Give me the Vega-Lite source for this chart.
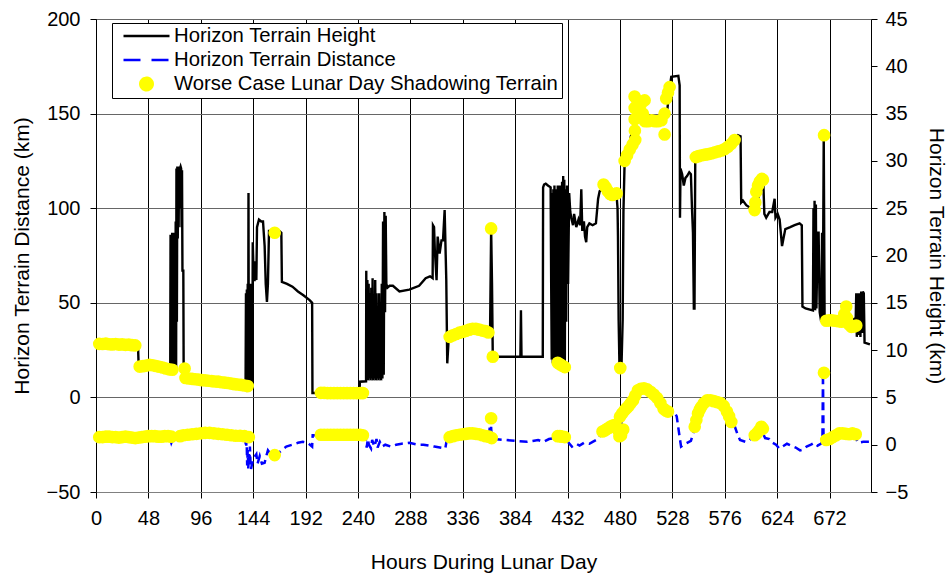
{
"$schema": "https://vega.github.io/schema/vega-lite/v6.json",
"width": 775, "height": 473,
"autosize": {"type": "none"},
"padding": {"left": 96, "top": 19, "right": 77, "bottom": 86},
"background": "white",
"config": {
  "font": "Liberation Sans",
  "view": {"stroke": null},
  "axis": {"labelFont": "Liberation Sans", "titleFont": "Liberation Sans", "labelColor": "#000", "titleColor": "#000", "tickColor": "#000", "titleFontWeight": "normal", "labelFontSize": 20, "titleFontSize": 21}
},
"datasets": {
"height": [
{"h":0,"v":28.7},{"h":10,"v":28.5},{"h":20,"v":28.3},{"h":30,"v":28},{"h":37,"v":27.5},{"h":38.5,"v":27},{"h":39,"v":18},{"h":40,"v":17},{"h":50,"v":16.5},{"h":60,"v":15.5},{"h":67,"v":14.5},
{"h":68,"v":15},{"h":68.3,"v":86},{"h":68.6,"v":16},{"h":69,"v":86},{"h":69.4,"v":15},{"h":69.8,"v":87},{"h":70.2,"v":16},{"h":70.6,"v":86},{"h":71,"v":15},{"h":71.4,"v":87},{"h":71.8,"v":17},{"h":72.2,"v":86},{"h":72.6,"v":16},{"h":73,"v":93},{"h":73.4,"v":16},{"h":73.7,"v":121},{"h":74.1,"v":40},{"h":74.5,"v":122},{"h":74.9,"v":84},{"h":75.3,"v":121},{"h":75.7,"v":90},{"h":76.1,"v":122},{"h":76.5,"v":100},{"h":77,"v":121},{"h":77.5,"v":122},{"h":78,"v":121},{"h":78.4,"v":90},{"h":78.8,"v":120},{"h":79.2,"v":67},{"h":80,"v":67},{"h":80.3,"v":14},{"h":81,"v":13},{"h":85,"v":11},{"h":100,"v":9.5},{"h":120,"v":7.5},{"h":136,"v":6},
{"h":137,"v":5},{"h":137.4,"v":55},{"h":137.8,"v":5},{"h":138.2,"v":57},{"h":138.6,"v":6},{"h":139,"v":60},{"h":139.4,"v":5},{"h":139.7,"v":108},{"h":140,"v":6},{"h":140.4,"v":58},{"h":140.8,"v":5},{"h":141.2,"v":60},{"h":141.6,"v":6},{"h":142,"v":57},{"h":142.4,"v":5},{"h":142.8,"v":60},{"h":143.2,"v":7},{"h":143.6,"v":82},{"h":144.5,"v":62},{"h":145.3,"v":62},{"h":146,"v":72},{"h":146.9,"v":62},{"h":147.5,"v":90},{"h":149.3,"v":94},{"h":151.4,"v":93},{"h":153,"v":93},{"h":154.5,"v":80},{"h":155.5,"v":60},{"h":156.6,"v":50.5},{"h":157.5,"v":60},{"h":158.5,"v":88},{"h":163,"v":88},{"h":168,"v":88},{"h":169.8,"v":87},{"h":170.3,"v":61},{"h":175,"v":60},{"h":180,"v":58.5},{"h":185,"v":56},{"h":190,"v":54},{"h":195.7,"v":51.4},{"h":198,"v":50},{"h":198.3,"v":2.3},{"h":241.5,"v":2.3},
{"h":241.7,"v":8.3},{"h":247.4,"v":8.5},{"h":247.6,"v":67},{"h":248,"v":10},{"h":248.6,"v":62},{"h":249.2,"v":9},{"h":249.8,"v":60},{"h":250.4,"v":10},{"h":251,"v":55},{"h":251.6,"v":9},{"h":252.2,"v":58},{"h":252.8,"v":10},{"h":253.4,"v":63},{"h":254,"v":9},{"h":254.6,"v":53},{"h":255.2,"v":10},{"h":255.8,"v":62},{"h":256.4,"v":9},{"h":257,"v":55},{"h":257.6,"v":10},{"h":258.2,"v":45},{"h":258.8,"v":9},{"h":259.4,"v":55},{"h":260,"v":10},{"h":260.6,"v":50},{"h":261.2,"v":9},{"h":261.8,"v":60},{"h":262.4,"v":10},{"h":263,"v":93},{"h":263.6,"v":12},{"h":264.2,"v":98},{"h":264.8,"v":45},{"h":265.4,"v":96},{"h":266,"v":60},{"h":267,"v":58},{"h":269,"v":59},{"h":272,"v":59},{"h":278,"v":56},{"h":287,"v":57},{"h":296,"v":59},{"h":302,"v":63},{"h":306,"v":64},{"h":308.4,"v":63},{"h":308.7,"v":91},{"h":309.7,"v":90},{"h":310.4,"v":78},{"h":312,"v":62},{"h":313,"v":85},{"h":314.8,"v":76},{"h":316.5,"v":83},{"h":317.9,"v":83},{"h":319.4,"v":99},{"h":320.9,"v":62},{"h":321.8,"v":18},{"h":323,"v":30},{"h":324,"v":32},{"h":330,"v":33},{"h":340,"v":34.5},{"h":350,"v":35.5},{"h":358,"v":35},{"h":361,"v":34},{"h":362,"v":89},{"h":362.8,"v":60},{"h":363.5,"v":21.5},{"h":375,"v":21.5},{"h":388.8,"v":21.5},{"h":389.3,"v":46},{"h":389.8,"v":22},{"h":390.5,"v":21.5},{"h":400,"v":21.5},{"h":409.3,"v":21.5},
{"h":409.6,"v":111},{"h":410.5,"v":112.5},{"h":412,"v":113},{"h":414,"v":112},{"h":416.5,"v":111},{"h":417,"v":61},{"h":417.5,"v":20},{"h":418,"v":108},{"h":418.5,"v":18},{"h":419,"v":110},{"h":419.5,"v":25},{"h":420,"v":112},{"h":420.5,"v":18},{"h":421,"v":70},{"h":421.5,"v":18},{"h":422,"v":110},{"h":422.5,"v":18},{"h":423,"v":112},{"h":423.5,"v":20},{"h":424,"v":70},{"h":424.5,"v":17},{"h":425,"v":112},{"h":425.5,"v":19},{"h":426,"v":111},{"h":426.5,"v":18},{"h":427,"v":114},{"h":427.5,"v":30},{"h":428,"v":117},{"h":428.5,"v":20},{"h":429,"v":115},{"h":429.5,"v":18},{"h":430,"v":110},{"h":430.8,"v":40},{"h":431.5,"v":112},{"h":432.5,"v":60},{"h":433.5,"v":108},{"h":434.5,"v":98},{"h":435.4,"v":95},{"h":437,"v":91},{"h":438,"v":97},{"h":440,"v":90},{"h":442,"v":94},{"h":443.5,"v":91},{"h":444.6,"v":110},{"h":445.5,"v":88},{"h":447,"v":93},{"h":448,"v":85},{"h":449.1,"v":82},{"h":450,"v":90},{"h":452,"v":92},{"h":455,"v":91},{"h":458,"v":92},{"h":460,"v":105},{"h":461.4,"v":109},{"h":464,"v":110},{"h":467,"v":111},{"h":470,"v":110},{"h":475,"v":108},
{"h":477,"v":106},{"h":477.8,"v":100},{"h":478.2,"v":85},{"h":478.8,"v":41},{"h":479.5,"v":18},{"h":480.5,"v":16},{"h":481.5,"v":18},{"h":482.5,"v":41},{"h":483.2,"v":98},{"h":484.3,"v":125},{"h":487,"v":130},{"h":490,"v":138},{"h":492,"v":142},{"h":494,"v":150},{"h":496,"v":148},{"h":500,"v":148},{"h":505,"v":146},{"h":510,"v":146},{"h":515,"v":146},{"h":520,"v":145},{"h":523,"v":150},{"h":525.5,"v":163},{"h":527,"v":169.5},{"h":533.5,"v":170},{"h":534.7,"v":165},{"h":535,"v":95},{"h":535.5,"v":121},{"h":537,"v":118},{"h":538.5,"v":112},{"h":540,"v":116},{"h":541.5,"v":117},{"h":543.5,"v":119},{"h":545,"v":118},{"h":546,"v":100},{"h":546.9,"v":87},{"h":547.7,"v":47},{"h":548.3,"v":47},{"h":549,"v":127},{"h":555,"v":128},{"h":565,"v":129},{"h":575,"v":131},{"h":583,"v":135},{"h":587,"v":137},{"h":588.1,"v":138.5},{"h":590.5,"v":138},{"h":591.1,"v":103},{"h":592.7,"v":104},{"h":595.7,"v":101.6},{"h":600,"v":100},{"h":603.4,"v":99},{"h":606,"v":104},{"h":609,"v":110},{"h":611.5,"v":111},{"h":612.3,"v":97},{"h":614,"v":95},{"h":617,"v":98},{"h":619.5,"v":98},{"h":621.7,"v":105},{"h":622.5,"v":95},{"h":624.5,"v":97},{"h":626.3,"v":94},{"h":628.5,"v":80},{"h":629.8,"v":84},{"h":631.5,"v":89},{"h":636,"v":90},{"h":640,"v":91},{"h":644.6,"v":92},{"h":646.6,"v":91},{"h":647.2,"v":48},{"h":650,"v":47},{"h":656.8,"v":46},{"h":657.3,"v":100},{"h":657.8,"v":46},{"h":658.3,"v":104},{"h":658.8,"v":46},{"h":659.5,"v":102},{"h":660,"v":47},{"h":661.2,"v":87},{"h":662,"v":87},{"h":663,"v":45},{"h":664.4,"v":40},{"h":665.2,"v":87},{"h":665.8,"v":40},{"h":666.7,"v":138.6},{"h":667.5,"v":40},{"h":670,"v":40},{"h":675,"v":40},{"h":680,"v":41},{"h":685,"v":42},{"h":690,"v":40},{"h":696,"v":42},{"h":696.5,"v":55},{"h":697,"v":32},{"h":698,"v":55},{"h":698.7,"v":33},{"h":699.5,"v":55},{"h":700.3,"v":32},{"h":701,"v":56},{"h":701.8,"v":34},{"h":702.5,"v":56},{"h":703.4,"v":55},{"h":704.1,"v":29},{"h":709,"v":28}
],
"distance": [
{"h":0,"v":0.3},{"h":3,"v":0.5},{"h":10,"v":0.6},{"h":20,"v":0.6},{"h":30,"v":0.5},{"h":40,"v":0.7},{"h":50,"v":0.8},{"h":60,"v":0.8},{"h":68,"v":0.6},{"h":69,"v":0.2},{"h":70,"v":0.5},{"h":75,"v":0.9},{"h":80,"v":1.0},{"h":90,"v":1.1},{"h":100,"v":1.2},{"h":110,"v":1.1},{"h":120,"v":1.0},{"h":130,"v":0.9},{"h":136,"v":0.9},{"h":137,"v":0.3},{"h":137.5,"v":-0.3},{"h":138,"v":0.5},{"h":138.5,"v":-2.2},{"h":139,"v":-0.5},{"h":139.5,"v":-2.5},{"h":140,"v":-1.0},{"h":140.5,"v":-2.0},{"h":141,"v":-0.2},{"h":141.5,"v":-1.8},{"h":142,"v":-2.6},{"h":143,"v":-2.0},{"h":144,"v":-1.5},{"h":146.9,"v":-1.0},{"h":148,"v":-2.0},{"h":150,"v":-1.2},{"h":152,"v":-2.0},{"h":154.5,"v":-1.9},{"h":156,"v":-1.2},{"h":157.5,"v":-0.6},{"h":160,"v":-1.0},{"h":163.7,"v":-1.1},{"h":168,"v":-0.8},{"h":174.3,"v":-0.2},{"h":180,"v":0},{"h":185,"v":0.2},{"h":189.6,"v":0.3},{"h":194,"v":0.2},{"h":198,"v":-0.2},{"h":198.5,"v":1.0},{"h":205,"v":1.0},{"h":215,"v":1.1},{"h":225,"v":1.1},{"h":235,"v":1.1},{"h":245,"v":1.0},
{"h":247,"v":0.8},{"h":248,"v":-0.3},{"h":249,"v":0.6},{"h":250,"v":0.0},{"h":252,"v":-0.4},{"h":253,"v":0.5},{"h":255,"v":-0.2},{"h":257,"v":0.6},{"h":258,"v":-0.3},{"h":260,"v":0.3},{"h":262,"v":-0.2},{"h":265,"v":0.0},{"h":270,"v":-0.2},{"h":275,"v":0},{"h":280,"v":0.1},{"h":287,"v":0.2},{"h":295,"v":0},{"h":300,"v":0.0},{"h":305,"v":-0.1},{"h":310,"v":-0.2},{"h":315,"v":-0.3},{"h":320,"v":-0.4},{"h":321.5,"v":0.6},{"h":325,"v":0.8},{"h":335,"v":1.0},{"h":345,"v":1.1},{"h":355,"v":1.0},{"h":360,"v":0.9},{"h":361.5,"v":2.8},{"h":362.5,"v":0.8},
{"h":365,"v":0.6},{"h":375,"v":0.5},{"h":385,"v":0.4},{"h":395,"v":0.3},{"h":400,"v":0.4},{"h":405,"v":0.5},{"h":410,"v":0.3},{"h":415,"v":0.6},{"h":420,"v":0.7},{"h":425,"v":0.85},{"h":430,"v":0.8},{"h":433,"v":0.2},{"h":436,"v":-0.2},{"h":440,"v":0.1},{"h":443,"v":-0.1},{"h":447,"v":0.2},{"h":452,"v":0.1},{"h":455,"v":0.3},{"h":460,"v":0.6},{"h":463,"v":1.2},{"h":466,"v":1.6},{"h":470,"v":1.8},{"h":475,"v":2.1},{"h":478,"v":2.0},{"h":480,"v":1.0},{"h":482,"v":2.8},{"h":485,"v":3.8},{"h":490,"v":4.3},{"h":495,"v":5.5},{"h":500,"v":5.8},{"h":505,"v":5.6},{"h":510,"v":5.3},{"h":515,"v":4.8},{"h":520,"v":4.0},{"h":525,"v":3.5},{"h":530,"v":3.4},{"h":532,"v":3.0},{"h":534.7,"v":0.8},{"h":536,"v":-0.2},{"h":540,"v":0.1},{"h":545,"v":0.4},{"h":548,"v":1.5},{"h":550,"v":2.5},{"h":553,"v":3.5},{"h":557,"v":4.3},{"h":562,"v":4.7},{"h":568,"v":4.8},{"h":573,"v":4.5},{"h":578,"v":4.0},{"h":582,"v":3.0},{"h":585,"v":2.0},{"h":588,"v":1.0},{"h":590,"v":0.5},
{"h":595,"v":0.3},{"h":598,"v":0.4},{"h":603,"v":1.0},{"h":606,"v":1.5},{"h":609,"v":1.9},{"h":611,"v":1.2},{"h":613,"v":0.7},{"h":617,"v":0.6},{"h":620,"v":0.2},{"h":623,"v":0.0},{"h":626,"v":-0.4},{"h":629,"v":-0.2},{"h":633,"v":0.1},{"h":637,"v":-0.1},{"h":641,"v":-0.3},{"h":645,"v":-0.6},{"h":648,"v":-0.5},{"h":651,"v":-0.2},{"h":655,"v":0.0},{"h":658,"v":0.2},{"h":661,"v":-0.1},{"h":664,"v":0.1},{"h":665.5,"v":0.3},{"h":666,"v":7.5},{"h":666.5,"v":0.8},{"h":668,"v":0.9},{"h":675,"v":1.1},{"h":680,"v":1.2},{"h":685,"v":1.2},{"h":690,"v":1.1},{"h":695,"v":1.0},{"h":698,"v":0.2},{"h":703,"v":0.3},{"h":709,"v":0.3}
],
"shadowUpper": [
{"h":3,"v":28.3},{"h":6,"v":28.2},{"h":9,"v":28.4},{"h":12,"v":28.1},{"h":15,"v":28},{"h":18,"v":28.2},{"h":21,"v":27.9},{"h":24,"v":28},{"h":27,"v":27.8},{"h":30,"v":27.9},{"h":33,"v":27.6},{"h":36,"v":27.5},
{"h":40,"v":16.3},{"h":43,"v":16.5},{"h":46,"v":16.8},{"h":49,"v":17.2},{"h":52,"v":17.0},{"h":55,"v":16.6},{"h":58,"v":16.2},{"h":61,"v":15.8},{"h":64,"v":15.3},{"h":67,"v":14.8},{"h":70,"v":14.6},
{"h":81.2,"v":15.3},
{"h":82,"v":10.3},{"h":85,"v":10},{"h":88,"v":9.8},{"h":91,"v":9.6},{"h":94,"v":9.4},{"h":97,"v":9.1},{"h":100,"v":9.0},{"h":103,"v":8.8},{"h":106,"v":8.6},{"h":109,"v":8.4},{"h":112,"v":8.3},{"h":115,"v":8.0},{"h":118,"v":7.8},{"h":121,"v":7.6},{"h":124,"v":7.3},{"h":127,"v":7.0},{"h":130,"v":6.8},{"h":133,"v":6.6},{"h":136,"v":6.3},{"h":139,"v":6.0},
{"h":163.7,"v":87},
{"h":206,"v":2.4},{"h":209,"v":2.4},{"h":212,"v":2.3},{"h":215,"v":2.3},{"h":218,"v":2.3},{"h":221,"v":2.3},{"h":224,"v":2.3},{"h":227,"v":2.3},{"h":230,"v":2.3},{"h":233,"v":2.3},{"h":236,"v":2.3},{"h":239,"v":2.3},{"h":242,"v":2.3},{"h":244.5,"v":2.3},
{"h":324,"v":32},{"h":327,"v":32.8},{"h":330,"v":33.5},{"h":333,"v":34.2},{"h":336,"v":34.7},{"h":339,"v":35.2},{"h":342,"v":35.8},{"h":345,"v":36.3},{"h":348,"v":36.2},{"h":351,"v":35.8},{"h":354,"v":35.3},{"h":357,"v":35},{"h":359.5,"v":34.3},
{"h":362,"v":89.3},{"h":363.5,"v":21.5},
{"h":423,"v":18.3},{"h":425,"v":17.5},{"h":427,"v":16.8},{"h":429.5,"v":16},
{"h":465,"v":112.5},{"h":467,"v":111},{"h":469,"v":109},{"h":471,"v":107.5},{"h":473,"v":107},{"h":475,"v":107.5},{"h":477,"v":107.8},
{"h":480.3,"v":15.5},
{"h":484.3,"v":125},{"h":486.5,"v":128},{"h":489,"v":131},{"h":491.5,"v":133.5},{"h":494,"v":136},{"h":493.7,"v":141},{"h":493.5,"v":147},{"h":493.5,"v":153},{"h":493.4,"v":159},{"h":496,"v":157},{"h":499,"v":155},{"h":502.6,"v":157},{"h":501,"v":150},{"h":503,"v":146},{"h":506,"v":146},{"h":509,"v":146.5},{"h":512,"v":146},{"h":515,"v":146},{"h":518,"v":146.5},{"h":520.9,"v":150},{"h":520.9,"v":139},{"h":522.4,"v":158},{"h":524,"v":161},{"h":525.5,"v":164},
{"h":549.5,"v":127},{"h":552,"v":127.5},{"h":555,"v":128},{"h":558,"v":128.3},{"h":561,"v":128.6},{"h":564,"v":129},{"h":567,"v":129.5},{"h":570,"v":130},{"h":573,"v":130.5},{"h":576,"v":131.3},{"h":579,"v":132.5},{"h":582,"v":134},{"h":585,"v":136},
{"h":603.4,"v":99},{"h":604,"v":103},{"h":604.9,"v":108.7},{"h":606.5,"v":112},{"h":608,"v":114},{"h":610,"v":115.5},{"h":611,"v":115},
{"h":667,"v":138.6},
{"h":669,"v":40.5},{"h":671.5,"v":40.7},{"h":674,"v":40.8},{"h":677,"v":40.5},{"h":680,"v":40.3},{"h":683,"v":40},{"h":685.5,"v":44},{"h":687.3,"v":48},{"h":688,"v":42},{"h":690,"v":38.5},{"h":692,"v":37.3},{"h":694.5,"v":37.5},{"h":696.5,"v":38}
],
"shadowLower": [
{"h":3,"v":0.8},{"h":6,"v":0.8},{"h":9,"v":0.85},{"h":12,"v":0.85},{"h":15,"v":0.8},{"h":18,"v":0.8},{"h":21,"v":0.75},{"h":24,"v":0.8},{"h":27,"v":0.85},{"h":30,"v":0.8},{"h":33,"v":0.75},{"h":36,"v":0.7},{"h":39,"v":0.75},{"h":42,"v":0.8},{"h":45,"v":0.85},{"h":48,"v":0.9},{"h":51,"v":0.9},{"h":54,"v":0.9},{"h":57,"v":0.85},{"h":60,"v":0.85},{"h":63,"v":0.9},{"h":66,"v":0.9},{"h":69,"v":0.85},
{"h":77,"v":0.9},{"h":80,"v":1.0},{"h":84,"v":1.05},{"h":88,"v":1.1},{"h":92,"v":1.15},{"h":96,"v":1.2},{"h":100,"v":1.25},{"h":104,"v":1.25},{"h":108,"v":1.2},{"h":112,"v":1.15},{"h":116,"v":1.1},{"h":120,"v":1.05},{"h":124,"v":1.0},{"h":128,"v":0.95},{"h":132,"v":0.95},{"h":136,"v":0.9},{"h":140,"v":0.8},
{"h":163.7,"v":-1.1},
{"h":206,"v":1.05},{"h":209,"v":1.05},{"h":212,"v":1.05},{"h":215,"v":1.05},{"h":218,"v":1.05},{"h":221,"v":1.05},{"h":224,"v":1.05},{"h":227,"v":1.05},{"h":230,"v":1.05},{"h":233,"v":1.05},{"h":236,"v":1.05},{"h":239,"v":1.05},{"h":242,"v":1.05},{"h":244.5,"v":1.0},
{"h":324,"v":0.8},{"h":327,"v":0.9},{"h":330,"v":1.0},{"h":333,"v":1.05},{"h":336,"v":1.1},{"h":339,"v":1.15},{"h":342,"v":1.2},{"h":345,"v":1.2},{"h":348,"v":1.15},{"h":351,"v":1.1},{"h":354,"v":1.0},{"h":357,"v":0.9},{"h":360,"v":0.85},{"h":362.5,"v":0.7},
{"h":362,"v":2.8},
{"h":423,"v":0.9},{"h":425,"v":0.9},{"h":427,"v":0.85},{"h":429.5,"v":0.8},
{"h":464,"v":1.4},{"h":466,"v":1.5},{"h":468,"v":1.65},{"h":470,"v":1.8},{"h":472,"v":1.95},{"h":474,"v":2.05},{"h":476,"v":2.1},{"h":478,"v":1.6},{"h":479.5,"v":0.9},
{"h":481,"v":1.0},{"h":483,"v":1.6},
{"h":480,"v":2.95},{"h":482,"v":3.3},{"h":484,"v":3.6},{"h":486,"v":3.85},{"h":488,"v":4.1},{"h":490,"v":4.4},{"h":492,"v":4.7},{"h":494,"v":5.2},{"h":496.5,"v":5.75},{"h":499,"v":5.9},{"h":502,"v":5.95},{"h":505,"v":5.85},{"h":508,"v":5.6},{"h":511,"v":5.3},{"h":514,"v":4.95},{"h":517,"v":4.4},{"h":520,"v":3.8},{"h":522,"v":3.6},{"h":524,"v":3.5},
{"h":548.5,"v":1.9},{"h":550,"v":2.6},{"h":551.5,"v":3.3},{"h":553,"v":3.7},{"h":554.5,"v":4.0},{"h":557,"v":4.4},{"h":560,"v":4.7},{"h":563,"v":4.7},{"h":566,"v":4.6},{"h":569,"v":4.5},{"h":572,"v":4.4},{"h":575,"v":4.1},{"h":578,"v":3.5},{"h":580,"v":3.0},{"h":582,"v":2.4},
{"h":603.5,"v":1.0},{"h":605.5,"v":1.2},{"h":607.5,"v":1.5},{"h":609.5,"v":1.9},{"h":611,"v":1.7},
{"h":666.9,"v":7.6},
{"h":669,"v":0.5},{"h":672,"v":0.6},{"h":675,"v":0.8},{"h":678,"v":1.0},{"h":681,"v":1.2},{"h":684,"v":1.2},{"h":687,"v":1.15},{"h":690,"v":1.1},{"h":693,"v":1.2},{"h":696,"v":1.1}
]
},
"encoding": {
  "x": {"field": "h", "type": "quantitative", "scale": {"domain": [0, 710], "nice": false, "zero": false},
    "axis": {"values": [0,48,96,144,192,240,288,336,384,432,480,528,576,624,672], "title": "Hours During Lunar Day", "grid": true, "gridColor": "#000000", "gridWidth": 1, "tickSize": 6, "domainColor": "#808080", "labelPadding": 10, "titlePadding": 23, "labelFlush": false}}
},
"layer": [
  {
    "encoding": {"y": {"field": "v", "type": "quantitative", "scale": {"domain": [-50, 200], "nice": false, "zero": false},
      "axis": {"orient": "left", "values": [-50,0,50,100,150,200], "title": "Horizon Terrain Distance (km)", "grid": true, "gridColor": "#666666", "gridWidth": 1, "tickSize": 6, "labelPadding": 10, "titlePadding": 14, "domainColor": "#000000"}}},
    "layer": [
      {"data": {"name": "height"}, "mark": {"type": "line", "strokeWidth": 2.4},
       "encoding": {"color": {"datum": "Horizon Terrain Height", "type": "nominal",
         "scale": {"domain": ["Horizon Terrain Height", "Horizon Terrain Distance", "Worse Case Lunar Day Shadowing Terrain"], "range": ["#000000", "#0000ff", "#ffff00"]},
         "legend": {"orient": "none", "legendX": 16, "legendY": 4, "title": null, "padding": 3, "clipHeight": 20, "rowPadding": 3,
           "symbolType": "stroke", "symbolSize": 2116, "symbolStrokeWidth": 2.5, "symbolOffset": 7, "labelOffset": 3,
           "labelFont": "Liberation Sans", "labelFontSize": 20.3, "labelColor": "#000000", "labelLimit": 600,
           "strokeColor": "#000000", "fillColor": "#ffffff",
           "encode": {"symbols": {"update": {
             "shape": {"signal": "datum.value === 'Worse Case Lunar Day Shadowing Terrain' ? 'circle' : 'stroke'"},
             "size": {"signal": "datum.value === 'Worse Case Lunar Day Shadowing Terrain' ? 150 : 2116"},
             "fill": {"signal": "datum.value === 'Worse Case Lunar Day Shadowing Terrain' ? '#ffff00' : 'transparent'"},
             "stroke": {"signal": "datum.value === 'Horizon Terrain Height' ? '#000000' : (datum.value === 'Horizon Terrain Distance' ? '#0000ff' : 'transparent')"},
             "strokeDash": {"signal": "datum.value === 'Horizon Terrain Distance' ? [17, 11] : [1, 0]"},
             "strokeWidth": {"value": 2.7},
             "opacity": {"value": 1}
           }}}}}}},
      {"data": {"name": "shadowUpper"}, "mark": {"type": "circle", "size": 160, "opacity": 1},
       "encoding": {"color": {"datum": "Worse Case Lunar Day Shadowing Terrain", "type": "nominal"}}}
    ]
  },
  {
    "encoding": {"y": {"field": "v", "type": "quantitative", "scale": {"domain": [-5, 45], "nice": false, "zero": false},
      "axis": {"orient": "right", "values": [-5,0,5,10,15,20,25,30,35,40,45], "title": "Horizon Terrain Height (km)", "grid": false, "tickSize": 6, "labelPadding": 8, "titlePadding": 18, "domainColor": "#000000"}}},
    "layer": [
      {"data": {"name": "distance"}, "mark": {"type": "line", "strokeWidth": 2.5, "strokeDash": [8, 5]},
       "encoding": {"color": {"datum": "Horizon Terrain Distance", "type": "nominal"}}},
      {"data": {"name": "shadowLower"}, "mark": {"type": "circle", "size": 160, "opacity": 1},
       "encoding": {"color": {"datum": "Worse Case Lunar Day Shadowing Terrain", "type": "nominal"}}}
    ]
  }
],
"resolve": {"scale": {"y": "independent"}, "axis": {"y": "independent"}}
}
